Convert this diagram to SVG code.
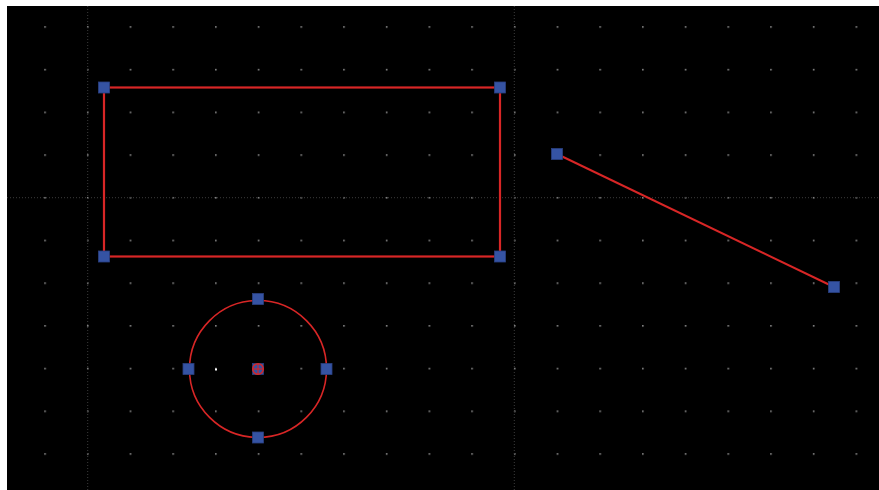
<svg xmlns="http://www.w3.org/2000/svg" width="879" height="490" viewBox="0 0 879 490">
  <defs>
    <pattern id="grid" patternUnits="userSpaceOnUse" x="86.95" y="196.95" width="42.7" height="42.7">
      <rect x="0" y="0" width="1.6" height="1.6" fill="#8a8a8a"/>
    </pattern>
    <style>
      .axis { stroke: #3c3c3c; stroke-width: 1; stroke-dasharray: 1 2; fill: none; }
      .shape { stroke: #d82626; fill: none; }
      .handle { fill: #3553a3; stroke: #2a4080; stroke-width: 0.8; }
    </style>
  </defs>
  <rect x="0" y="0" width="879" height="490" fill="#ffffff"/>
  <rect x="7" y="6" width="872" height="484" fill="#000000"/>
  <rect x="7" y="6" width="872" height="484" fill="url(#grid)"/>
  <g id="axes">
    <line class="axis" x1="87.7" y1="6" x2="87.7" y2="490"/>
    <line class="axis" x1="514.3" y1="6" x2="514.3" y2="490"/>
    <line class="axis" x1="7" y1="197.7" x2="879" y2="197.7"/>
  </g>
  <rect x="215" y="368.5" width="2" height="2" fill="#ffffff"/>
  <g id="rectangle">
    <rect class="shape" x="104" y="87.5" width="396" height="169" stroke-width="2.2"/>
    <rect class="handle" x="98.5" y="82" width="11" height="11"/>
    <rect class="handle" x="494.5" y="82" width="11" height="11"/>
    <rect class="handle" x="98.5" y="251" width="11" height="11"/>
    <rect class="handle" x="494.5" y="251" width="11" height="11"/>
  </g>
  <g id="line">
    <line class="shape" x1="557" y1="154" x2="834" y2="287" stroke-width="2"/>
    <rect class="handle" x="551.5" y="148.5" width="11" height="11"/>
    <rect class="handle" x="828.5" y="281.5" width="11" height="11"/>
  </g>
  <g id="circle">
    <circle class="shape" cx="258" cy="369" r="68.5" stroke-width="1.6"/>
    <rect class="handle" x="252.5" y="293.5" width="11" height="11"/>
    <rect class="handle" x="252.5" y="432" width="11" height="11"/>
    <rect class="handle" x="183" y="363.5" width="11" height="11"/>
    <rect class="handle" x="321" y="363.5" width="11" height="11"/>
    <rect class="handle" x="252.5" y="363.5" width="11" height="11"/>
    <circle cx="258" cy="369" r="5.3" fill="none" stroke="#d82626" stroke-width="1.5"/>
    <line x1="252.7" y1="369" x2="263.3" y2="369" stroke="#d82626" stroke-width="1.1"/>
    <line x1="258" y1="363.7" x2="258" y2="374.3" stroke="#d82626" stroke-width="1.1"/>
  </g>
</svg>
